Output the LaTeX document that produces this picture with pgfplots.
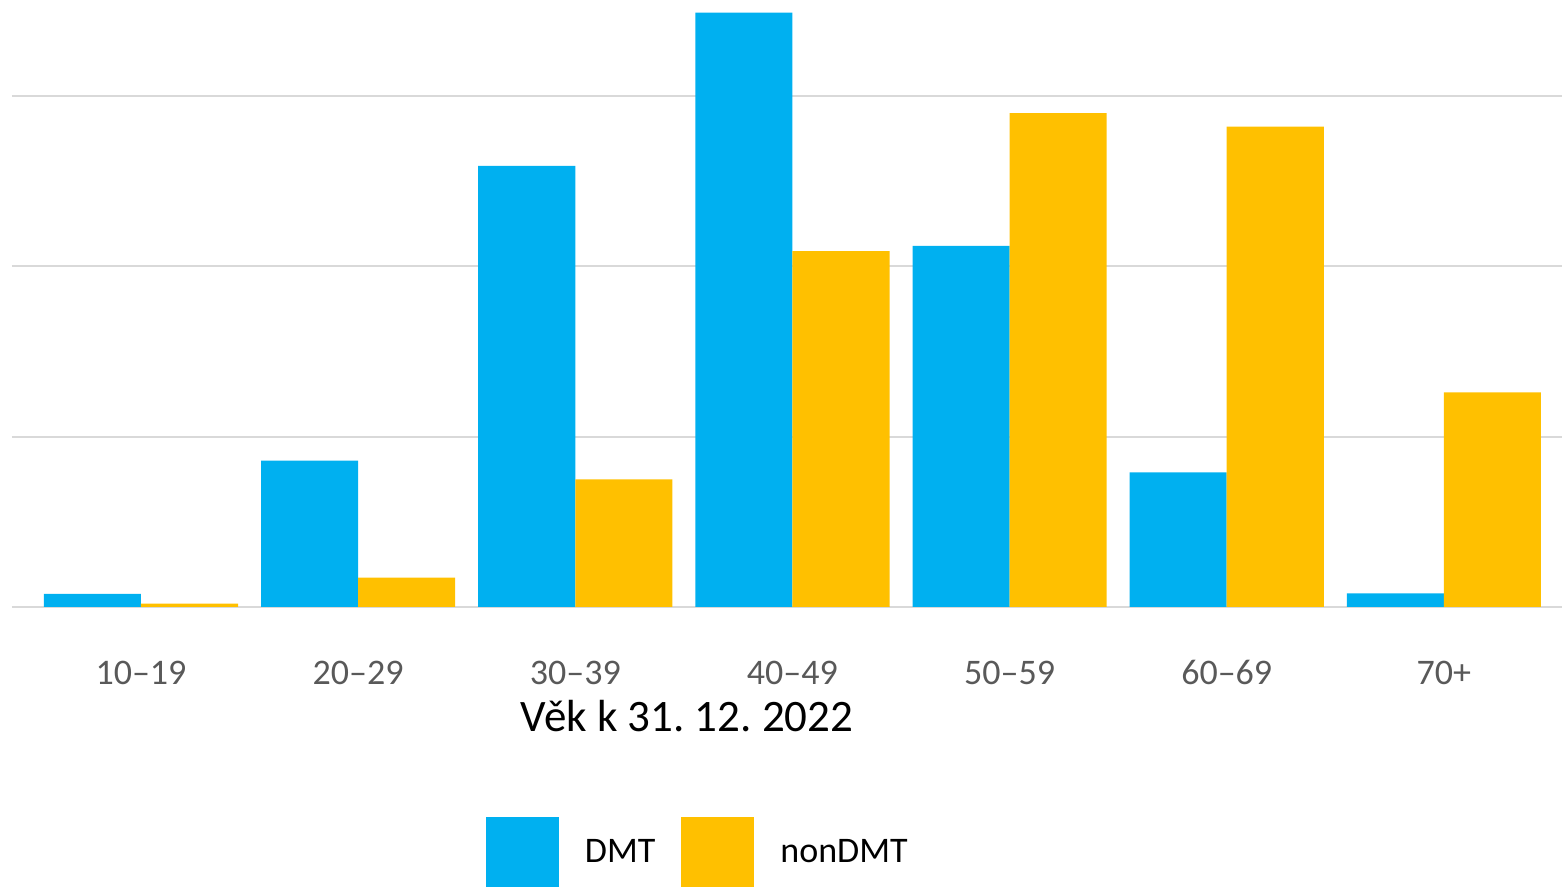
\documentclass[border=0pt]{standalone}
\usepackage{fontspec}
\setmainfont{Carlito}
\usepackage{pgfplots}
\pgfplotsset{compat=1.18}
\definecolor{dmt}{HTML}{00B0F0}
\definecolor{nondmt}{HTML}{FFC000}
\definecolor{gridc}{HTML}{D9D9D9}
\definecolor{tickc}{HTML}{595959}
\frenchspacing
\begin{document}
\begin{tikzpicture}
\useasboundingbox (0,0) rectangle (781pt,443.5pt);
\begin{axis}[
  at={(6pt,140pt)}, anchor=south west,
  scale only axis, width=775pt, height=303.5pt,
  xmin=-0.594, xmax=6.544, ymin=0, ymax=35.64,
  axis line style={draw=none},
  major tick length=0pt,
  ytick={0,10,20,30}, yticklabels={},
  ymajorgrids, grid style={gridc, line width=1pt},
  xtick={0,1,2,3,4,5,6},
  xticklabels={10--19,20--29,30--39,40--49,50--59,60--69,70+},
  xticklabel style={anchor=base, yshift=-38.6pt, font=\fontsize{18}{20}\selectfont, text=tickc},
  xlabel={Věk k 31. 12. 2022},
  xlabel style={at={(axis description cs:0.4355,-0.2043)}, anchor=base, font=\fontsize{22.5}{26}\selectfont},
  legend columns=2,
  legend style={at={(axis description cs:0.3058,-0.4036)}, anchor=west, draw=none, inner sep=0pt, outer sep=0pt,
    column sep=13pt, font=\fontsize{18}{20}\selectfont, nodes={inner sep=0pt}},
  legend image code/.code={\fill[#1] (0pt,-17.5pt) rectangle (36.5pt,17.5pt);},
]
\addplot[ybar, draw=none, fill=dmt, bar width=0.447, bar shift=-0.2235] coordinates {
  (0,0.77) (1,8.6) (2,25.9) (3,34.9) (4,21.2) (5,7.9) (6,0.8)};
\addlegendentry{DMT}
\addplot[ybar, draw=none, fill=nondmt, bar width=0.447, bar shift=0.2235] coordinates {
  (0,0.2) (1,1.72) (2,7.5) (3,20.9) (4,29.0) (5,28.2) (6,12.6)};
\addlegendentry{nonDMT}
\end{axis}
\end{tikzpicture}
\end{document}
